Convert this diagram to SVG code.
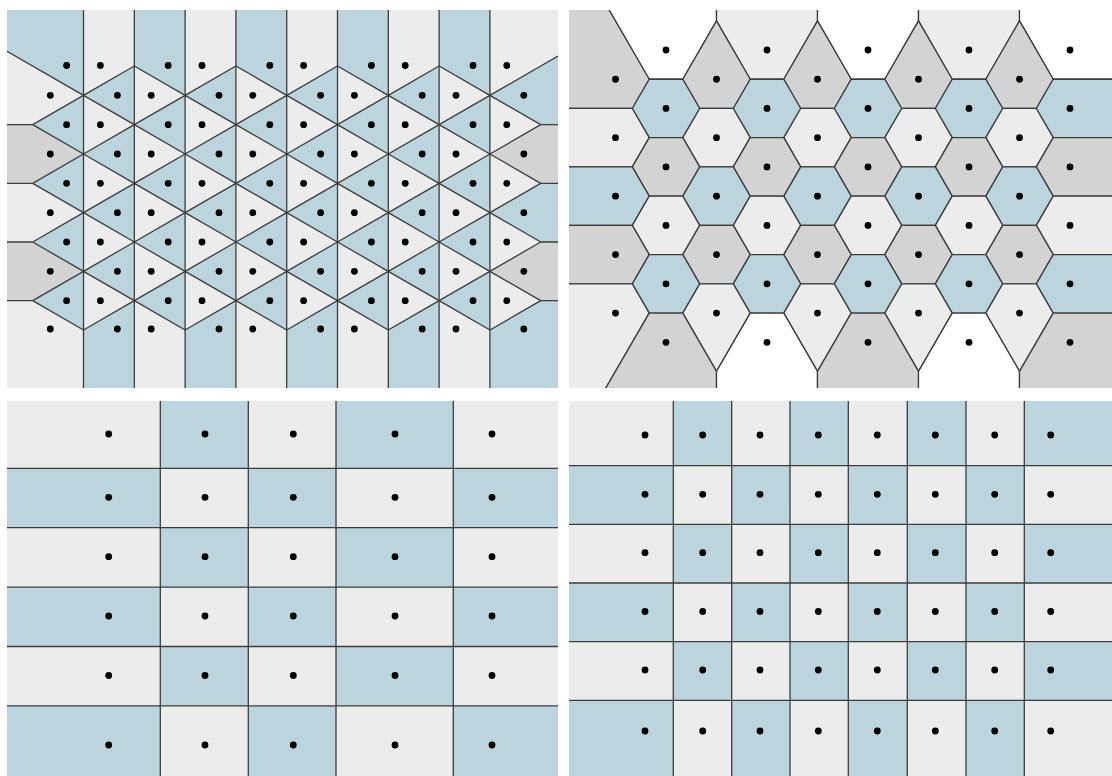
<svg xmlns="http://www.w3.org/2000/svg" width="1112" height="776" viewBox="0 0 1112 776">
<style>
.lt{fill:#ececec}
.bl{fill:#bbd4de}
.gr{fill:#d3d3d3}
.wh{fill:#ffffff}
.ln{fill:none;stroke:#3c3c3c;stroke-width:1.3;stroke-linejoin:round}
.c{stroke:#3c3c3c;stroke-width:1.3;stroke-linejoin:round}
.dot{fill:#000000}
</style>
<defs>
<clipPath id="clipTL"><rect x="7" y="10" width="551" height="378"/></clipPath>
<clipPath id="clipTR"><rect x="569" y="10" width="543" height="378"/></clipPath>
<clipPath id="clipBL"><rect x="7" y="400.7" width="551" height="375.3"/></clipPath>
<clipPath id="clipBR"><rect x="569" y="400.7" width="543" height="375.3"/></clipPath>
<path id="triL" class="bl" d="M0,-29.33V29.33L-50.8,0Z"/>
<g id="tlBO"><use href="#triL" x="134.3"/><use href="#triL" x="235.9"/><use href="#triL" x="337.5"/><use href="#triL" x="439.1"/></g>
<g id="tlBE"><use href="#triL" x="83.5"/><use href="#triL" x="185.1"/><use href="#triL" x="286.7"/><use href="#triL" x="388.3"/><use href="#triL" x="489.9"/></g>
<polyline id="zO" class="ln" points="32.7,29.33 83.5,0 134.3,29.33 185.1,0 235.9,29.33 286.7,0 337.5,29.33 388.3,0 439.1,29.33 489.9,0 540.7,29.33"/>
<polyline id="zE" class="ln" points="32.7,0 83.5,29.33 134.3,0 185.1,29.33 235.9,0 286.7,29.33 337.5,0 388.3,29.33 439.1,0 489.9,29.33 540.7,0"/>
<g id="tlDE" class="dot"><circle cx="66.6" r="3.4"/><circle cx="100.4" r="3.4"/><circle cx="168.2" r="3.4"/><circle cx="202" r="3.4"/><circle cx="269.8" r="3.4"/><circle cx="303.6" r="3.4"/><circle cx="371.4" r="3.4"/><circle cx="405.2" r="3.4"/><circle cx="473" r="3.4"/><circle cx="506.8" r="3.4"/></g>
<g id="tlDO" class="dot"><circle cx="50.3" r="3.4"/><circle cx="117.4" r="3.4"/><circle cx="151.2" r="3.4"/><circle cx="219" r="3.4"/><circle cx="252.8" r="3.4"/><circle cx="320.6" r="3.4"/><circle cx="354.4" r="3.4"/><circle cx="422.2" r="3.4"/><circle cx="456" r="3.4"/><circle cx="523.8" r="3.4"/></g>
<path id="hx" d="M-33.71,0L-16.79,-29.23H16.79L33.71,0L16.79,29.23H-16.79Z"/>
<path id="hxR" d="M-33.71,0L-16.79,-29.23H46V29.23H-16.79Z"/>
<path id="hxL" d="M33.71,0L16.79,-29.23H-56V29.23H16.79Z"/>
<path id="pnT" d="M0,-58.3L33.71,0L16.79,29.23H-16.79L-33.71,0Z"/>
<path id="pnB" d="M0,58.3L33.71,0L16.79,-29.23H-16.79L-33.71,0Z"/>
<g id="trDE" class="dot"><circle cx="666" r="3.4"/><circle cx="767" r="3.4"/><circle cx="868" r="3.4"/><circle cx="969" r="3.4"/><circle cx="1070" r="3.4"/></g>
<g id="trDO" class="dot"><circle cx="615.5" r="3.4"/><circle cx="716.5" r="3.4"/><circle cx="817.5" r="3.4"/><circle cx="918.5" r="3.4"/><circle cx="1019.5" r="3.4"/></g>
<g id="blD" class="dot"><circle cx="108.7" r="3.4"/><circle cx="205" r="3.4"/><circle cx="293.3" r="3.4"/><circle cx="395" r="3.4"/><circle cx="492" r="3.4"/></g>
<g id="brD" class="dot"><circle cx="645" r="3.4"/><circle cx="702.7" r="3.4"/><circle cx="760" r="3.4"/><circle cx="818.3" r="3.4"/><circle cx="877.3" r="3.4"/><circle cx="935.3" r="3.4"/><circle cx="994.7" r="3.4"/><circle cx="1050.7" r="3.4"/></g>
</defs>
<rect width="1112" height="776" fill="#ffffff"/>

<g id="panel-top-left" clip-path="url(#clipTL)">
<rect class="lt" x="7" y="10" width="551" height="378"/>
<g id="tl-fills">
<use href="#tlBO" y="95.33"/><use href="#tlBE" y="124.67"/><use href="#tlBO" y="154"/><use href="#tlBE" y="183.33"/>
<use href="#tlBO" y="212.67"/><use href="#tlBE" y="242"/><use href="#tlBO" y="271.33"/><use href="#tlBE" y="300.67"/>
<polygon class="bl" points="7,10 83.5,10 83.5,95.33 7,51.2"/>
<polygon class="bl" points="134.3,10 185.1,10 185.1,95.33 134.3,66"/>
<polygon class="bl" points="235.9,10 286.7,10 286.7,95.33 235.9,66"/>
<polygon class="bl" points="337.5,10 388.3,10 388.3,95.33 337.5,66"/>
<polygon class="bl" points="439.1,10 489.9,10 489.9,95.33 439.1,66"/>
<polygon class="bl" points="83.5,330 134.3,300.67 134.3,388 83.5,388"/>
<polygon class="bl" points="185.1,330 235.9,300.67 235.9,388 185.1,388"/>
<polygon class="bl" points="286.7,330 337.5,300.67 337.5,388 286.7,388"/>
<polygon class="bl" points="388.3,330 439.1,300.67 439.1,388 388.3,388"/>
<polygon class="bl" points="489.9,330 540.7,300.67 558,300.67 558,388 489.9,388"/>
<polygon class="bl" points="489.9,95.33 558,56 558,124.67 540.7,124.67"/>
<polygon class="bl" points="489.9,212.67 540.7,183.33 558,183.33 558,242 540.7,242"/>
<polygon class="gr" points="489.9,154 540.7,124.67 558,124.67 558,183.33 540.7,183.33"/>
<polygon class="gr" points="489.9,271.33 540.7,242 558,242 558,300.67 540.7,300.67"/>
<polygon class="gr" points="7,124.67 32.7,124.67 83.5,154 32.7,183.33 7,183.33"/>
<polygon class="gr" points="7,242 32.7,242 83.5,271.33 32.7,300.67 7,300.67"/>
</g>
<g id="tl-edges">
<path class="ln" d="M83.5,10V388M134.3,10V388M185.1,10V388M235.9,10V388M286.7,10V388M337.5,10V388M388.3,10V388M439.1,10V388M489.9,10V388"/>
<path class="ln" d="M7,124.67H32.7M7,183.33H32.7M7,242H32.7M7,300.67H32.7M540.7,124.67H558M540.7,183.33H558M540.7,242H558M540.7,300.67H558"/>
<polyline class="ln" points="7,51.2 83.5,95.33 134.3,66 185.1,95.33 235.9,66 286.7,95.33 337.5,66 388.3,95.33 439.1,66 489.9,95.33 558,56"/>
<use href="#zO" y="95.33"/><use href="#zE" y="124.67"/><use href="#zO" y="154"/><use href="#zE" y="183.33"/>
<use href="#zO" y="212.67"/><use href="#zE" y="242"/><use href="#zO" y="271.33"/><use href="#zE" y="300.67"/>
</g>
<g id="tl-sites">
<use href="#tlDE" y="65.5"/><use href="#tlDO" y="95.33"/><use href="#tlDE" y="124.67"/><use href="#tlDO" y="154"/><use href="#tlDE" y="183.33"/>
<use href="#tlDO" y="212.67"/><use href="#tlDE" y="242"/><use href="#tlDO" y="271.33"/><use href="#tlDE" y="300.67"/><use href="#tlDO" y="329"/>
</g>
</g>

<g id="panel-top-right" clip-path="url(#clipTR)">
<g id="tr-cells">
<polygon class="c wh" points="606.8,6 716.5,6 716.5,20.93 682.79,79.23 649.21,79.23"/>
<polygon class="c lt" points="716.5,6 817.5,6 817.5,20.93 783.79,79.23 750.21,79.23 716.5,20.93"/>
<polygon class="c wh" points="817.5,6 918.5,6 918.5,20.93 884.79,79.23 851.21,79.23 817.5,20.93"/>
<polygon class="c lt" points="918.5,6 1019.5,6 1019.5,20.93 985.79,79.23 952.21,79.23 918.5,20.93"/>
<polygon class="c wh" points="1019.5,6 1116,6 1116,79.23 1053.21,79.23 1019.5,20.93"/>
<polygon class="c gr" points="560,6 606.8,6 649.21,79.23 632.29,108.46 560,108.46"/>
<use href="#pnT" class="c gr" x="716.5" y="79.23"/><use href="#pnT" class="c gr" x="817.5" y="79.23"/><use href="#pnT" class="c gr" x="918.5" y="79.23"/><use href="#pnT" class="c gr" x="1019.5" y="79.23"/>
<use href="#hx" class="c bl" x="666" y="108.46"/><use href="#hx" class="c bl" x="767" y="108.46"/><use href="#hx" class="c bl" x="868" y="108.46"/><use href="#hx" class="c bl" x="969" y="108.46"/><use href="#hxR" class="c bl" x="1070" y="108.46"/>
<use href="#hxL" class="c lt" x="615.5" y="137.69"/><use href="#hx" class="c lt" x="716.5" y="137.69"/><use href="#hx" class="c lt" x="817.5" y="137.69"/><use href="#hx" class="c lt" x="918.5" y="137.69"/><use href="#hx" class="c lt" x="1019.5" y="137.69"/>
<use href="#hx" class="c gr" x="666" y="166.92"/><use href="#hx" class="c gr" x="767" y="166.92"/><use href="#hx" class="c gr" x="868" y="166.92"/><use href="#hx" class="c gr" x="969" y="166.92"/><use href="#hxR" class="c gr" x="1070" y="166.92"/>
<use href="#hxL" class="c bl" x="615.5" y="196.15"/><use href="#hx" class="c bl" x="716.5" y="196.15"/><use href="#hx" class="c bl" x="817.5" y="196.15"/><use href="#hx" class="c bl" x="918.5" y="196.15"/><use href="#hx" class="c bl" x="1019.5" y="196.15"/>
<use href="#hx" class="c lt" x="666" y="225.38"/><use href="#hx" class="c lt" x="767" y="225.38"/><use href="#hx" class="c lt" x="868" y="225.38"/><use href="#hx" class="c lt" x="969" y="225.38"/><use href="#hxR" class="c lt" x="1070" y="225.38"/>
<use href="#hxL" class="c gr" x="615.5" y="254.61"/><use href="#hx" class="c gr" x="716.5" y="254.61"/><use href="#hx" class="c gr" x="817.5" y="254.61"/><use href="#hx" class="c gr" x="918.5" y="254.61"/><use href="#hx" class="c gr" x="1019.5" y="254.61"/>
<use href="#hx" class="c bl" x="666" y="283.84"/><use href="#hx" class="c bl" x="767" y="283.84"/><use href="#hx" class="c bl" x="868" y="283.84"/><use href="#hx" class="c bl" x="969" y="283.84"/><use href="#hxR" class="c bl" x="1070" y="283.84"/>
<polygon class="c lt" points="560,283.84 632.29,283.84 649.21,313.07 603.5,392 560,392"/>
<use href="#pnB" class="c lt" x="716.5" y="313.07"/><use href="#pnB" class="c lt" x="817.5" y="313.07"/><use href="#pnB" class="c lt" x="918.5" y="313.07"/><use href="#pnB" class="c lt" x="1019.5" y="313.07"/>
<polygon class="c gr" points="649.21,313.07 682.79,313.07 716.5,371.37 716.5,392 603.5,392"/>
<polygon class="c wh" points="716.5,371.37 750.21,313.07 783.79,313.07 817.5,371.37 817.5,392 716.5,392"/>
<polygon class="c gr" points="817.5,371.37 851.21,313.07 884.79,313.07 918.5,371.37 918.5,392 817.5,392"/>
<polygon class="c wh" points="918.5,371.37 952.21,313.07 985.79,313.07 1019.5,371.37 1019.5,392 918.5,392"/>
<polygon class="c gr" points="1019.5,371.37 1053.21,313.07 1116,313.07 1116,392 1019.5,392"/>
</g>
<g id="tr-sites">
<use href="#trDE" y="50"/><use href="#trDO" y="79.23"/><use href="#trDE" y="108.46"/><use href="#trDO" y="137.69"/><use href="#trDE" y="166.92"/><use href="#trDO" y="196.15"/>
<use href="#trDE" y="225.38"/><use href="#trDO" y="254.61"/><use href="#trDE" y="283.84"/><use href="#trDO" y="313.07"/><use href="#trDE" y="342.3"/>
</g>
</g>

<g id="panel-bottom-left" clip-path="url(#clipBL)">
<rect class="lt" x="7" y="400.7" width="551" height="375.3"/>
<g id="bl-fills" class="bl">
<rect x="160.3" y="400.7" width="88" height="67.6"/><rect x="336" y="400.7" width="117.3" height="67.6"/>
<rect x="7" y="468.3" width="153.3" height="59.4"/><rect x="248.3" y="468.3" width="87.7" height="59.4"/><rect x="453.3" y="468.3" width="104.7" height="59.4"/>
<rect x="160.3" y="527.7" width="88" height="59.4"/><rect x="336" y="527.7" width="117.3" height="59.4"/>
<rect x="7" y="587.1" width="153.3" height="59.4"/><rect x="248.3" y="587.1" width="87.7" height="59.4"/><rect x="453.3" y="587.1" width="104.7" height="59.4"/>
<rect x="160.3" y="646.5" width="88" height="59.4"/><rect x="336" y="646.5" width="117.3" height="59.4"/>
<rect x="7" y="705.9" width="153.3" height="70.1"/><rect x="248.3" y="705.9" width="87.7" height="70.1"/><rect x="453.3" y="705.9" width="104.7" height="70.1"/>
</g>
<path class="ln" d="M160.3,400.7V776M248.3,400.7V776M336,400.7V776M453.3,400.7V776M7,468.3H558M7,527.7H558M7,587.1H558M7,646.5H558M7,705.9H558"/>
<g id="bl-sites"><use href="#blD" y="434"/><use href="#blD" y="497.3"/><use href="#blD" y="556.7"/><use href="#blD" y="616"/><use href="#blD" y="675.5"/><use href="#blD" y="745"/></g>
</g>

<g id="panel-bottom-right" clip-path="url(#clipBR)">
<rect class="lt" x="569" y="400.7" width="543" height="375.3"/>
<g id="br-fills" class="bl">
<rect x="673.3" y="400.7" width="58.4" height="65"/><rect x="790" y="400.7" width="58.3" height="65"/><rect x="907.3" y="400.7" width="58.7" height="65"/><rect x="1024.3" y="400.7" width="87.7" height="65"/>
<rect x="569" y="465.7" width="104.3" height="58.6"/><rect x="731.7" y="465.7" width="58.3" height="58.6"/><rect x="848.3" y="465.7" width="59" height="58.6"/><rect x="966" y="465.7" width="58.3" height="58.6"/>
<rect x="673.3" y="524.3" width="58.4" height="58.7"/><rect x="790" y="524.3" width="58.3" height="58.7"/><rect x="907.3" y="524.3" width="58.7" height="58.7"/><rect x="1024.3" y="524.3" width="87.7" height="58.7"/>
<rect x="569" y="583" width="104.3" height="58.7"/><rect x="731.7" y="583" width="58.3" height="58.7"/><rect x="848.3" y="583" width="59" height="58.7"/><rect x="966" y="583" width="58.3" height="58.7"/>
<rect x="673.3" y="641.7" width="58.4" height="58.6"/><rect x="790" y="641.7" width="58.3" height="58.6"/><rect x="907.3" y="641.7" width="58.7" height="58.6"/><rect x="1024.3" y="641.7" width="87.7" height="58.6"/>
<rect x="569" y="700.3" width="104.3" height="75.7"/><rect x="731.7" y="700.3" width="58.3" height="75.7"/><rect x="848.3" y="700.3" width="59" height="75.7"/><rect x="966" y="700.3" width="58.3" height="75.7"/>
</g>
<path class="ln" d="M673.3,400.7V776M731.7,400.7V776M790,400.7V776M848.3,400.7V776M907.3,400.7V776M966,400.7V776M1024.3,400.7V776M569,465.7H1112M569,524.3H1112M569,583H1112M569,641.7H1112M569,700.3H1112"/>
<g id="br-sites"><use href="#brD" y="435"/><use href="#brD" y="494.3"/><use href="#brD" y="552.7"/><use href="#brD" y="611.5"/><use href="#brD" y="670"/><use href="#brD" y="731"/></g>
</g>
</svg>
